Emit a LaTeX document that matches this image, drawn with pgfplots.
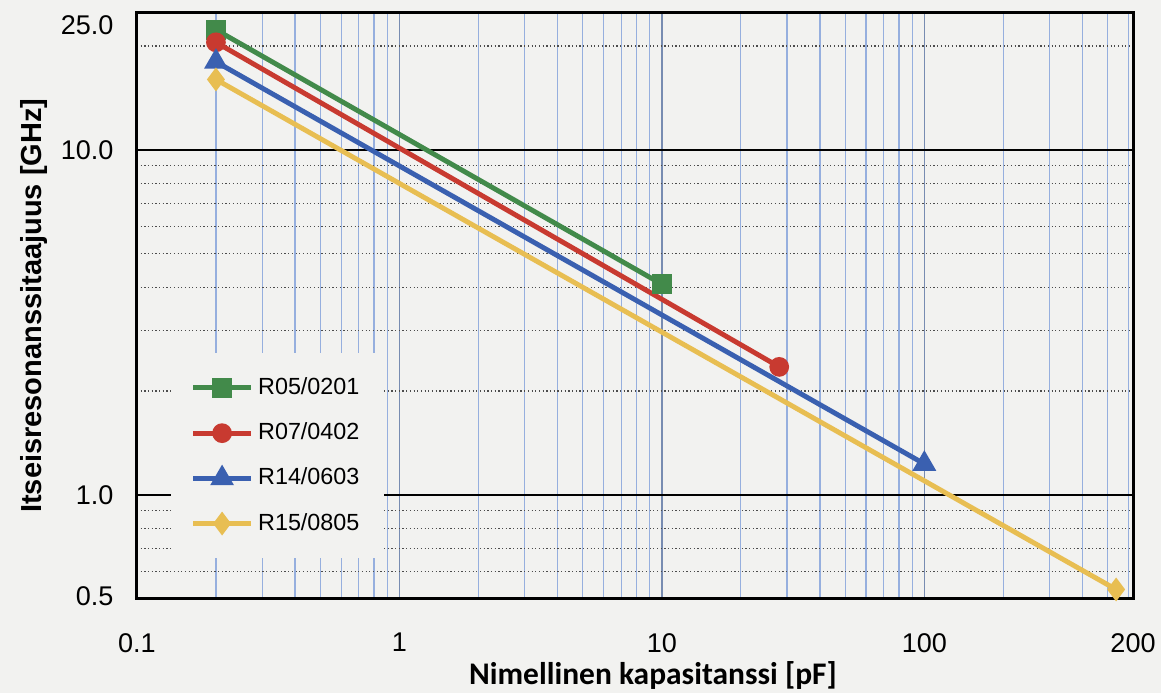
\documentclass[border=0pt]{standalone}
\usepackage{fontspec}
\setmainfont{Liberation Sans}
\newfontfamily\calibri{Carlito}
\usepackage{pgfplots}
\pgfplotsset{compat=1.18}

\definecolor{paper}{RGB}{242,242,240}
\definecolor{cgreen}{RGB}{66,138,74}
\definecolor{cred}{RGB}{200,58,48}
\definecolor{cblue}{RGB}{58,96,176}
\definecolor{cyellow}{RGB}{232,190,82}
\definecolor{gridblue}{RGB}{150,175,222}

\begin{document}
\pagecolor{paper}
\begin{tikzpicture}
\useasboundingbox (-1.86cm,-1.34cm) rectangle (14.64cm,8.56cm);
\begin{axis}[
    scale only axis,
    width=14.24cm, height=8.38cm,
    xmode=log, ymode=log,
    xmin=0.1, xmax=624,
    ymin=0.5, ymax=25,
    xtick={0.1,1,10,100,624},
    xticklabels={0.1,1,10,100,200},
    ytick={0.5,1,10,25},
    yticklabels={\raisebox{1pt}[\height][\depth]{0.5},1.0,10.0,\raisebox{-5.3pt}[\height][\depth]{25.0}},
    minor xtick={0.2,0.3,0.4,0.5,0.6,0.7,0.8,0.9,2,3,4,5,6,7,8,9,20,30,40,50,60,70,80,90,200,300,400,500,600},
    minor ytick={0.6,0.7,0.8,0.9,2,3,4,5,6,7,8,9,20},
    major tick length=0pt, minor tick length=0pt,
    xmajorgrids, xminorgrids, ymajorgrids, yminorgrids,
    major x grid style={gridblue!80!black, line width=0.6pt},
    minor x grid style={gridblue, line width=0.5pt},
    major y grid style={black, line width=0.7pt},
    minor y grid style={black!70, line width=0.5pt, densely dotted},
    axis line style={black, line width=1.2pt},
    ticklabel style={font=\fontsize{11}{13}\selectfont},
    /pgf/number format/assume math mode=true,
    yticklabel style={xshift=-6pt},
    xticklabel style={yshift=-10.5pt},
    xlabel={Nimellinen kapasitanssi [pF]},
    ylabel={Itseisresonanssitaajuus [GHz]},
    xlabel style={at={(axis description cs:0.518,0)}, anchor=center, yshift=-1.1cm,
        font=\calibri\bfseries\fontsize{12.8}{15}\selectfont},
    ylabel style={at={(axis description cs:-0.1032,0.5)}, anchor=center,
        font=\bfseries\fontsize{11.8}{13}\selectfont},
    legend style={at={(axis description cs:0.034,0.42)}, anchor=north west,
        draw=none, fill=paper, font=\fontsize{9.5}{11}\selectfont,
        row sep=6pt, inner xsep=8pt, inner ysep=8pt,
        /tikz/column 2/.style={column sep=5pt}},
    legend cell align=left,
    legend image code/.code={\draw[mark repeat=2,mark phase=2] plot coordinates {(0cm,0cm) (0.41cm,0cm) (0.82cm,0cm)};},
]

\addplot[color=cgreen, line width=2pt, mark=square*, mark size=3pt, mark options={solid}]
    coordinates {(0.2,22.3) (10,4.08)};
\addlegendentry{R05/0201}

\addplot[color=cred, line width=2pt, mark=*, mark size=3pt, mark options={solid}]
    coordinates {(0.2,20.5) (28,2.35)};
\addlegendentry{R07/0402}

\addplot[color=cblue, line width=2pt, mark=triangle*, mark size=3.6pt, mark options={solid}]
    coordinates {(0.2,18.0) (100,1.23)};
\addlegendentry{R14/0603}

\addplot[color=cyellow, line width=2pt, mark=diamond*, mark size=3.2pt, mark options={solid}]
    coordinates {(0.2,16.0) (538,0.532)};
\addlegendentry{R15/0805}

\end{axis}
\end{tikzpicture}
\end{document}
